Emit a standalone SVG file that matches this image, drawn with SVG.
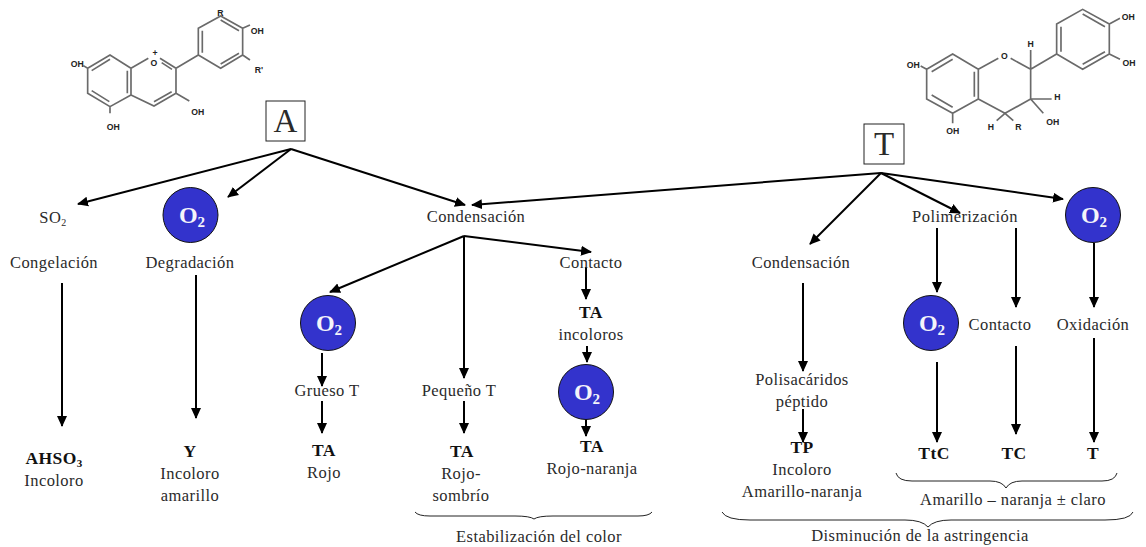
<svg xmlns="http://www.w3.org/2000/svg" width="1146" height="547" viewBox="0 0 1146 547">
<style>
text{font-family:"Liberation Serif","Times New Roman",serif;font-size:16.5px;fill:#2a2a2a;text-anchor:middle;letter-spacing:.42px}
.b{font-weight:bold;font-size:17.5px;fill:#111}
.o{font-weight:bold;font-size:24px;fill:#f4f4fa;letter-spacing:0}
.o tspan{font-size:15px}
.box{font-size:33px;letter-spacing:0}
.c{stroke:#000;stroke-width:2;fill:none;marker-end:url(#h)}
.circle{fill:#3333cc;stroke:#111;stroke-width:1}
.r{fill:#fff;stroke:#222;stroke-width:1}
.br{fill:none;stroke:#222;stroke-width:1}
.m{fill:none;stroke:#6a6a6a;stroke-width:5}
.mt{font-family:"Liberation Sans",Arial,sans-serif;font-weight:bold;font-size:26px;fill:#222;letter-spacing:0}
</style>
<defs>
<marker id="h" markerUnits="userSpaceOnUse" markerWidth="11" markerHeight="11" refX="10" refY="5.500" orient="auto"><path d="M0,.5 L11,5.500 L0,10.500z" fill="#000"/></marker>
</defs>

<g id="molecule-A" transform="translate(50,0) scale(.3333)">
<path class="m" d="M113,205L180,165L243,205L243,285L180,320L113,280Z M125,212L180,178 M232,212L232,280 M125,272L178,305 M243,205L295,175 M330,175L378,205L378,280L312,318L243,285 M335,188L366,208 M312,305L365,275 M378,205L445,165 M445,165L445,85L512,48L578,85L578,165L512,205Z M457,158L457,92 M512,60L567,92 M567,160L512,192 M578,85L600,75 M578,165L600,180 M378,280L418,303 M180,320L180,340 M113,205L100,197"/>
<text class="mt" x="511" y="48">R</text><text class="mt" x="622" y="101">OH</text><text class="mt" x="627" y="220">R'</text><text class="mt" x="443" y="346">OH</text><text class="mt" x="190" y="391">OH</text><text class="mt" x="82" y="201">OH</text><text class="mt" x="312" y="197">O</text><text class="mt" x="315" y="168">+</text>
</g>

<g id="molecule-T" transform="translate(880,0) scale(.3333)">
<path class="m" d="M140,208L218,162L295,208L295,297L218,340L140,297Z M155,215L218,178 M283,215L283,290 M155,285L218,322 M295,208L355,175 M392,175L452,208L452,297L375,340L295,297 M452,208L530,162 M530,162L530,72L608,28L688,72L688,162L608,208Z M543,155L543,80 M608,42L675,80 M675,155L608,193 M688,72L720,55 M688,162L720,178 M452,208L452,150 M452,297L515,297 M452,297L490,340 M375,340L400,362 M375,340L350,362 M218,340L218,370 M140,208L122,198"/>
<text class="mt" x="373" y="176">O</text><text class="mt" x="452" y="142">H</text><text class="mt" x="532" y="299">H</text><text class="mt" x="518" y="374">OH</text><text class="mt" x="415" y="391">R</text><text class="mt" x="333" y="389">H</text><text class="mt" x="218" y="401">OH</text><text class="mt" x="100" y="204">OH</text><text class="mt" x="745" y="61">OH</text><text class="mt" x="747" y="197">OH</text>
</g>

<g id="connectors">
<path class="c" d="M291,149L78,204"/>
<path class="c" d="M291,149L228,197"/>
<path class="c" d="M291,149L465,205"/>
<path class="c" d="M881,173L472,205"/>
<path class="c" d="M881,173L810,244"/>
<path class="c" d="M881,173L960,213"/>
<path class="c" d="M881,173L1063,199"/>
<path class="c" d="M464,236L330,292"/>
<path class="c" d="M464,236L464,378"/>
<path class="c" d="M464,236L591,252"/>
<path class="c" d="M62,283V426"/>
<path class="c" d="M196,275V418"/>
<path class="c" d="M322,353V386"/>
<path class="c" d="M322,401V433"/>
<path class="c" d="M464,401V433"/>
<path class="c" d="M586,267V299"/>
<path class="c" d="M587,346V362"/>
<path class="c" d="M586,419V436"/>
<path class="c" d="M803,283V371"/>
<path class="c" d="M803,409V442"/>
<path class="c" d="M937,228V292"/>
<path class="c" d="M1016,228V307"/>
<path class="c" d="M1094,243V307"/>
<path class="c" d="M937,362V442"/>
<path class="c" d="M1016,346V434"/>
<path class="c" d="M1094,338V442"/>
</g>

<g id="node-A"><rect class="r" x="266" y="101" width="39" height="40"/><text class="box" x="285.500" y="132">A</text></g>
<g id="node-T"><rect class="r" x="864" y="124" width="40" height="40"/><text class="box" x="884" y="155">T</text></g>

<g id="o2-1"><circle class="circle" cx="190.500" cy="215" r="27.500"/><text class="o" x="192" y="223">O<tspan dy="4">2</tspan></text></g>
<g id="o2-2"><circle class="circle" cx="328" cy="323" r="27.500"/><text class="o" x="329" y="331">O<tspan dy="4">2</tspan></text></g>
<g id="o2-3"><circle class="circle" cx="586" cy="392" r="27.500"/><text class="o" x="587" y="400">O<tspan dy="4">2</tspan></text></g>
<g id="o2-4"><circle class="circle" cx="931" cy="323" r="27.500"/><text class="o" x="932" y="331">O<tspan dy="4">2</tspan></text></g>
<g id="o2-5"><circle class="circle" cx="1093" cy="215" r="27.500"/><text class="o" x="1094" y="223">O<tspan dy="4">2</tspan></text></g>

<g id="labels-A">
<text x="53" y="223">SO<tspan font-size="10" dy="3">2</tspan></text>
<text x="54" y="268">Congelación</text>
<text x="190" y="268">Degradación</text>
<text class="b" x="54" y="464">AHSO<tspan font-size="11" dy="3">3</tspan></text>
<text x="54" y="486">Incoloro</text>
<text class="b" x="190" y="457">Y</text>
<text x="190" y="479">Incoloro</text>
<text x="190" y="501">amarillo</text>
<text x="327" y="396">Grueso T</text>
<text class="b" x="324" y="456">TA</text>
<text x="324" y="478">Rojo</text>
<text x="476" y="222">Condensación</text>
<text x="459" y="396">Pequeño T</text>
<text class="b" x="462" y="457">TA</text>
<text x="461" y="479">Rojo-</text>
<text x="461" y="501">sombrío</text>
<text x="591" y="268">Contacto</text>
<text class="b" x="591" y="318">TA</text>
<text x="591" y="340">incoloros</text>
<text class="b" x="592" y="452">TA</text>
<text x="592" y="474">Rojo-naranja</text>
<text x="539" y="542">Estabilización del color</text>
</g>
<g id="labels-T">
<text x="801" y="268">Condensación</text>
<text x="965" y="222">Polimerización</text>
<text x="1000" y="330">Contacto</text>
<text x="1093" y="330">Oxidación</text>
<text x="802" y="385">Polisacáridos</text>
<text x="802" y="407">péptido</text>
<text class="b" x="802" y="453">TP</text>
<text x="802" y="475">Incoloro</text>
<text x="802" y="497">Amarillo-naranja</text>
<text class="b" x="934" y="459">TtC</text>
<text class="b" x="1014" y="459">TC</text>
<text class="b" x="1093" y="459">T</text>
<text x="1013" y="505">Amarillo – naranja ± claro</text>
<text x="920" y="541">Disminución de la astringencia</text>
</g>
<g id="braces">
<path class="br" d="M415,512Q418,516 430,516H515Q530,516 534,519Q538,516 553,516H638Q649,516 652,512"/>
<path class="br" d="M896,473Q898,481 912,481H990Q1002,481 1006,488Q1010,481 1022,481H1102Q1115,481 1117,473"/>
<path class="br" d="M722,512Q726,520 750,520H905Q922,520 928,527Q934,520 951,520H1105Q1130,520 1133,512"/>
</g>
</svg>
